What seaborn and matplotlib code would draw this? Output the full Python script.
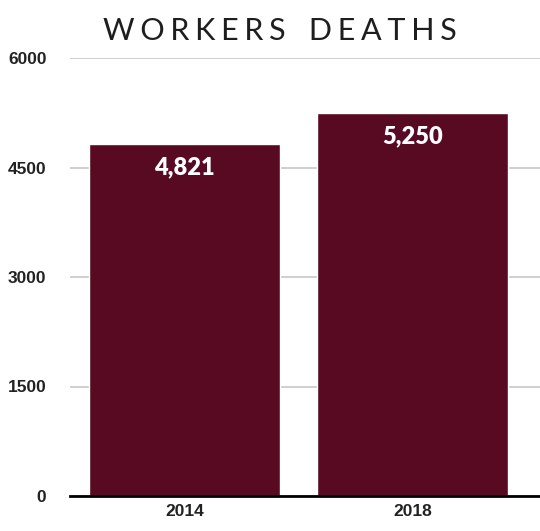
import matplotlib
matplotlib.use("Agg")
import matplotlib.pyplot as plt
import seaborn as sns
import pandas as pd

# Chart data
years = ["2014", "2018"]
deaths = [4821, 5250]
y_ticks = [0, 1500, 3000, 4500, 6000]

df = pd.DataFrame({"year": years, "deaths": deaths})

sns.set_style("white")
plt.rcParams["font.family"] = ["Liberation Sans", "DejaVu Sans"]

fig = plt.figure(figsize=(5.4, 5.31), dpi=100)
ax = fig.add_axes([70 / 540, 1 - 496 / 531, 470 / 540, (496 - 58) / 531])

sns.barplot(data=df, x="year", y="deaths", color="#580a22", width=0.84,
            saturation=1, ax=ax, zorder=3)

ax.set_ylim(0, 6000)
ax.set_xlim(-0.502, 1.56)
ax.set_yticks(y_ticks)
ax.set_yticklabels([str(t) for t in y_ticks])
ax.grid(axis="y", color="#cfcfcf", linewidth=1.4, zorder=0)
ax.set_xlabel("")
ax.set_ylabel("")
for s in ["top", "right", "left"]:
    ax.spines[s].set_visible(False)
ax.spines["bottom"].set_color("black")
ax.spines["bottom"].set_linewidth(2)
ax.spines["bottom"].set_zorder(4)
ax.tick_params(axis="y", length=0, pad=17, labelsize=12.5)
ax.tick_params(axis="x", length=0, pad=6, labelsize=12.5)
for lab in ax.get_xticklabels() + ax.get_yticklabels():
    lab.set_fontweight("bold")
    lab.set_color("#222222")

# Value labels inside the bars
for i, v in enumerate(deaths):
    ax.annotate(f"{v:,}", (i, v), xytext=(0, -17), textcoords="offset points",
                ha="center", va="center", color="white", fontsize=17,
                fontweight="heavy", family=["Lato", "DejaVu Sans"], zorder=5)

# spaced-out title
gap = "\u2009\u200a"
title = gap.join("WORKERS") + "   " + gap.join("DEATHS")
fig.text(280 / 540, 1 - 31 / 531, title,
         ha="center", va="center", fontsize=22, color="#1e1e1e",
         family=["Lato", "DejaVu Sans"])

fig.savefig("out.png", dpi=100)
